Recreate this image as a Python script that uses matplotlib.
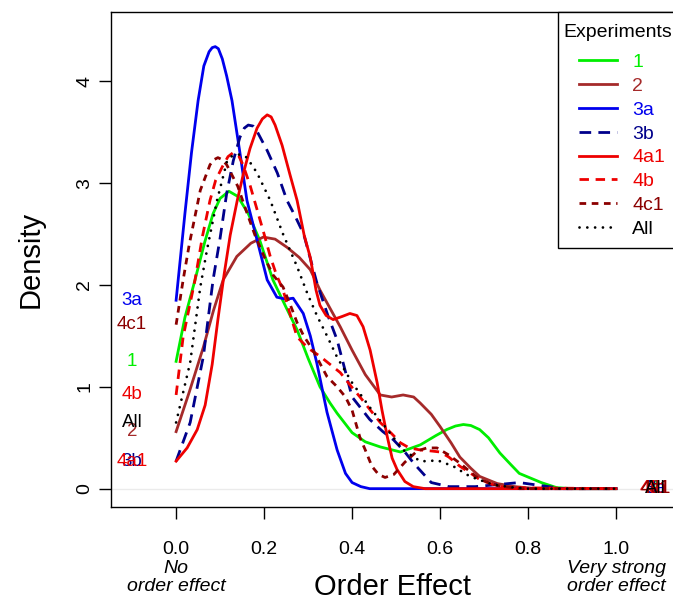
import matplotlib
matplotlib.use('Agg')
import matplotlib.pyplot as plt
import matplotlib.transforms as mtransforms
from matplotlib.legend_handler import HandlerLine2D
from matplotlib.patches import Rectangle

plt.rcParams['font.family'] = ['Liberation Sans', 'DejaVu Sans']

# ---------------- data ----------------
names = ['1', '2', '3a', '3b', '4a1', '4b', '4c1', 'All']

x_1 = [0, 0.02, 0.043, 0.065, 0.084, 0.10, 0.12, 0.14, 0.164, 0.19, 0.22, 0.25, 0.275, 0.30,
       0.327, 0.35, 0.366, 0.40, 0.43, 0.464, 0.51, 0.555, 0.59, 0.615, 0.635, 0.653, 0.67,
       0.69, 0.71, 0.736, 0.76, 0.78, 0.83, 0.865, 0.9, 1.0]
y_1 = [1.25, 1.68, 2.05, 2.42, 2.70, 2.85, 2.92, 2.87, 2.70, 2.44, 2.05, 1.78, 1.56, 1.28,
       1.00, 0.84, 0.74, 0.55, 0.46, 0.41, 0.36, 0.43, 0.52, 0.58, 0.615, 0.63, 0.62,
       0.58, 0.50, 0.35, 0.24, 0.15, 0.06, 0.01, 0.0, 0.0]

x_2 = [0, 0.03, 0.062, 0.085, 0.107, 0.138, 0.17, 0.198, 0.225, 0.252, 0.28, 0.305, 0.327,
       0.35, 0.373, 0.40, 0.43, 0.464, 0.49, 0.516, 0.54, 0.555, 0.58, 0.60, 0.625, 0.645,
       0.67, 0.69, 0.73, 0.77, 0.82, 1.0]
y_2 = [0.56, 0.95, 1.39, 1.75, 2.05, 2.28, 2.41, 2.47, 2.45, 2.37, 2.27, 2.15, 1.95,
       1.77, 1.59, 1.36, 1.12, 0.92, 0.90, 0.92, 0.90, 0.84, 0.73, 0.61, 0.45, 0.31,
       0.20, 0.12, 0.05, 0.02, 0.0, 0.0]

x_3a = [0, 0.02, 0.035, 0.05, 0.063, 0.075, 0.082, 0.089, 0.096, 0.105, 0.115, 0.127, 0.145,
        0.161, 0.19, 0.207, 0.229, 0.25, 0.266, 0.289, 0.305, 0.32, 0.343, 0.366, 0.385,
        0.40, 0.42, 0.44, 1.0]
y_3a = [1.85, 2.70, 3.30, 3.81, 4.15, 4.29, 4.33, 4.34, 4.32, 4.22, 4.05, 3.81, 3.30,
        2.83, 2.34, 2.05, 1.88, 1.86, 1.87, 1.72, 1.50, 1.23, 0.75, 0.38, 0.15,
        0.06, 0.02, 0.0, 0.0]

x_3b = [0, 0.032, 0.062, 0.084, 0.10, 0.115, 0.13, 0.145, 0.155, 0.164, 0.175, 0.185, 0.207,
        0.23, 0.252, 0.27, 0.29, 0.32, 0.345, 0.366, 0.40, 0.44, 0.47, 0.494, 0.52, 0.54,
        0.58, 0.62, 0.68, 0.73, 0.78, 0.83, 0.88, 1.0]
y_3b = [0.27, 0.65, 1.30, 2.05, 2.46, 2.90, 3.22, 3.45, 3.54, 3.57, 3.56, 3.50, 3.32,
        3.10, 2.83, 2.68, 2.50, 2.02, 1.70, 1.46, 0.90, 0.68, 0.56, 0.48, 0.36, 0.25,
        0.06, 0.02, 0.02, 0.04, 0.06, 0.03, 0.0, 0.0]

x_4a1 = [0, 0.025, 0.048, 0.066, 0.082, 0.095, 0.109, 0.123, 0.139, 0.155, 0.168, 0.184,
         0.196, 0.207, 0.216, 0.225, 0.241, 0.259, 0.275, 0.291, 0.305, 0.318, 0.327, 0.341,
         0.357, 0.377, 0.395, 0.411, 0.425, 0.441, 0.457, 0.468, 0.48, 0.491, 0.502, 0.52,
         0.539, 0.566, 1.0]
y_4a1 = [0.27, 0.40, 0.58, 0.82, 1.22, 1.66, 2.10, 2.49, 2.83, 3.13, 3.34, 3.54,
         3.63, 3.67, 3.65, 3.57, 3.37, 3.08, 2.83, 2.49, 2.27, 1.95, 1.80, 1.70,
         1.66, 1.69, 1.72, 1.70, 1.59, 1.36, 1.04, 0.77, 0.51, 0.30, 0.19, 0.07,
         0.02, 0.0, 0.0]

x_4b = [0, 0.016, 0.043, 0.06, 0.077, 0.09, 0.105, 0.118, 0.13, 0.142, 0.152, 0.168, 0.184,
        0.2, 0.214, 0.228, 0.243, 0.26, 0.275, 0.30, 0.327, 0.35, 0.373, 0.395, 0.418, 0.44,
        0.464, 0.49, 0.51, 0.53, 0.555, 0.58, 0.6, 0.62, 0.645, 0.67, 0.69, 0.72, 0.75, 1.0]
y_4b = [0.92, 1.49, 2.05, 2.48, 2.83, 3.03, 3.16, 3.26, 3.30, 3.27, 3.18, 2.98, 2.74,
        2.50, 2.28, 2.10, 1.95, 1.70, 1.49, 1.38, 1.30, 1.22, 1.14, 1.02, 0.90, 0.78,
        0.65, 0.54, 0.45, 0.40, 0.38, 0.37, 0.36, 0.31, 0.22, 0.15, 0.09, 0.04, 0.01, 0.0]

x_4c1 = [0, 0.016, 0.03, 0.055, 0.077, 0.086, 0.095, 0.105, 0.115, 0.14, 0.16, 0.18, 0.2,
         0.22, 0.243, 0.26, 0.275, 0.29, 0.311, 0.343, 0.366, 0.385, 0.40, 0.418, 0.43,
         0.445, 0.46, 0.475, 0.495, 0.52, 0.548, 0.57, 0.593, 0.62, 0.645, 0.67, 0.69,
         0.73, 0.78, 1.0]
y_4c1 = [1.61, 2.05, 2.40, 2.93, 3.18, 3.23, 3.25, 3.23, 3.18, 2.97, 2.72, 2.48, 2.28,
         2.10, 1.98, 1.80, 1.63, 1.50, 1.36, 1.10, 1.00, 0.90, 0.77, 0.50, 0.38,
         0.22, 0.14, 0.11, 0.14, 0.26, 0.37, 0.40, 0.40, 0.33, 0.25, 0.16, 0.09,
         0.03, 0.0, 0.0]

x_all = [0, 0.032, 0.055, 0.07, 0.093, 0.116, 0.128, 0.14, 0.15, 0.161, 0.184, 0.214, 0.243,
         0.275, 0.298, 0.32, 0.343, 0.366, 0.40, 0.44, 0.48, 0.516, 0.555, 0.575, 0.593,
         0.63, 0.668, 0.72, 0.76, 0.8, 1.0]
y_all = [0.65, 1.24, 1.98, 2.34, 2.83, 3.22, 3.27, 3.28, 3.28, 3.25, 3.10, 2.83, 2.50,
         2.18, 1.92, 1.70, 1.50, 1.29, 1.04, 0.80, 0.58, 0.38, 0.27, 0.27, 0.28,
         0.22, 0.12, 0.04, 0.015, 0.0, 0.0]

x_ticks = [0.0, 0.2, 0.4, 0.6, 0.8, 1.0]
x_tick_labels = ['0.0', '0.2', '0.4', '0.6', '0.8', '1.0']
y_ticks = [0, 1, 2, 3, 4]

# ---------------- styles ----------------
series = [
    (x_1, y_1, '#00ee00', 'solid'),
    (x_2, y_2, '#a52a2a', 'solid'),
    (x_3a, y_3a, '#0000ee', 'solid'),
    (x_3b, y_3b, '#00008b', (0, (4.2, 2.6))),
    (x_4a1, y_4a1, '#ee0000', 'solid'),
    (x_4b, y_4b, '#ee0000', (0, (3.4, 2.4))),
    (x_4c1, y_4c1, '#8b0000', (0, (2.4, 2.0))),
    (x_all, y_all, '#000000', (0, (0.01, 2.8))),
]

fig = plt.figure(figsize=(6.73, 6.04), dpi=100)
ax = fig.add_axes([111 / 673, 97 / 604, 564 / 673, 495 / 604])
ax.set_xlim(-0.148, 1.134)
ax.set_ylim(-0.18, 4.68)

ax.axhline(0, color='#ebebeb', lw=1.0, zorder=0)

for name, (xs, ys, col, ls) in zip(names, series):
    ax.plot(xs, ys, color=col, lw=2.0, linestyle=ls, label=name,
            solid_joinstyle='round', dash_joinstyle='round',
            dash_capstyle='round' if name == 'All' else 'butt')
    ax.text(-0.1, ys[0], name, color=col, fontsize=13.5, ha='center', va='center')
    ax.text(1.09, ys[-1], name, color=col, fontsize=13.5, ha='center', va='center')

for sp in ax.spines.values():
    sp.set_linewidth(1.0)

ax.set_xticks(x_ticks)
ax.set_xticklabels(x_tick_labels)
ax.set_yticks(y_ticks)
ax.tick_params(axis='x', length=8.6, width=1.0, pad=16, labelsize=14)
ax.tick_params(axis='y', length=8.6, width=1.0, pad=4, labelsize=14, labelrotation=90)
for lab in ax.get_yticklabels():
    lab.set_va('center')

ax.set_xlabel('Order Effect', fontsize=21, labelpad=11)
ax.set_ylabel('Density', fontsize=21, labelpad=23)

trans = mtransforms.blended_transform_factory(ax.transData, ax.transAxes)
ax.text(0.0, -0.142, 'No\norder effect', transform=trans, ha='center', va='center',
        fontsize=14, style='italic', linespacing=1.1)
ax.text(1.0, -0.142, 'Very strong\norder effect', transform=trans, ha='center', va='center',
        fontsize=14, style='italic', linespacing=1.1)

# legend frame (box) and content
frame = Rectangle((558 / 673, 1 - 248 / 604), 130 / 673, 236 / 604, transform=fig.transFigure,
                  facecolor='white', edgecolor='black', lw=1.0, zorder=4, clip_on=False)
ax.add_patch(frame)

leg = ax.legend(title='Experiments', loc='upper left',
                bbox_to_anchor=(563 / 673, 1 - 24 / 604), bbox_transform=fig.transFigure,
                borderaxespad=0, fontsize=14, title_fontsize=14, frameon=False,
                labelcolor='linecolor',
                handlelength=2.8, handletextpad=0.77, borderpad=0.0, labelspacing=0.32,
                alignment='left',
                handler_map={plt.Line2D: HandlerLine2D(xpad=0.8)})
leg.set_zorder(5)
leg._legend_box.sep = 9.0

fig.savefig('out.png', dpi=100)
